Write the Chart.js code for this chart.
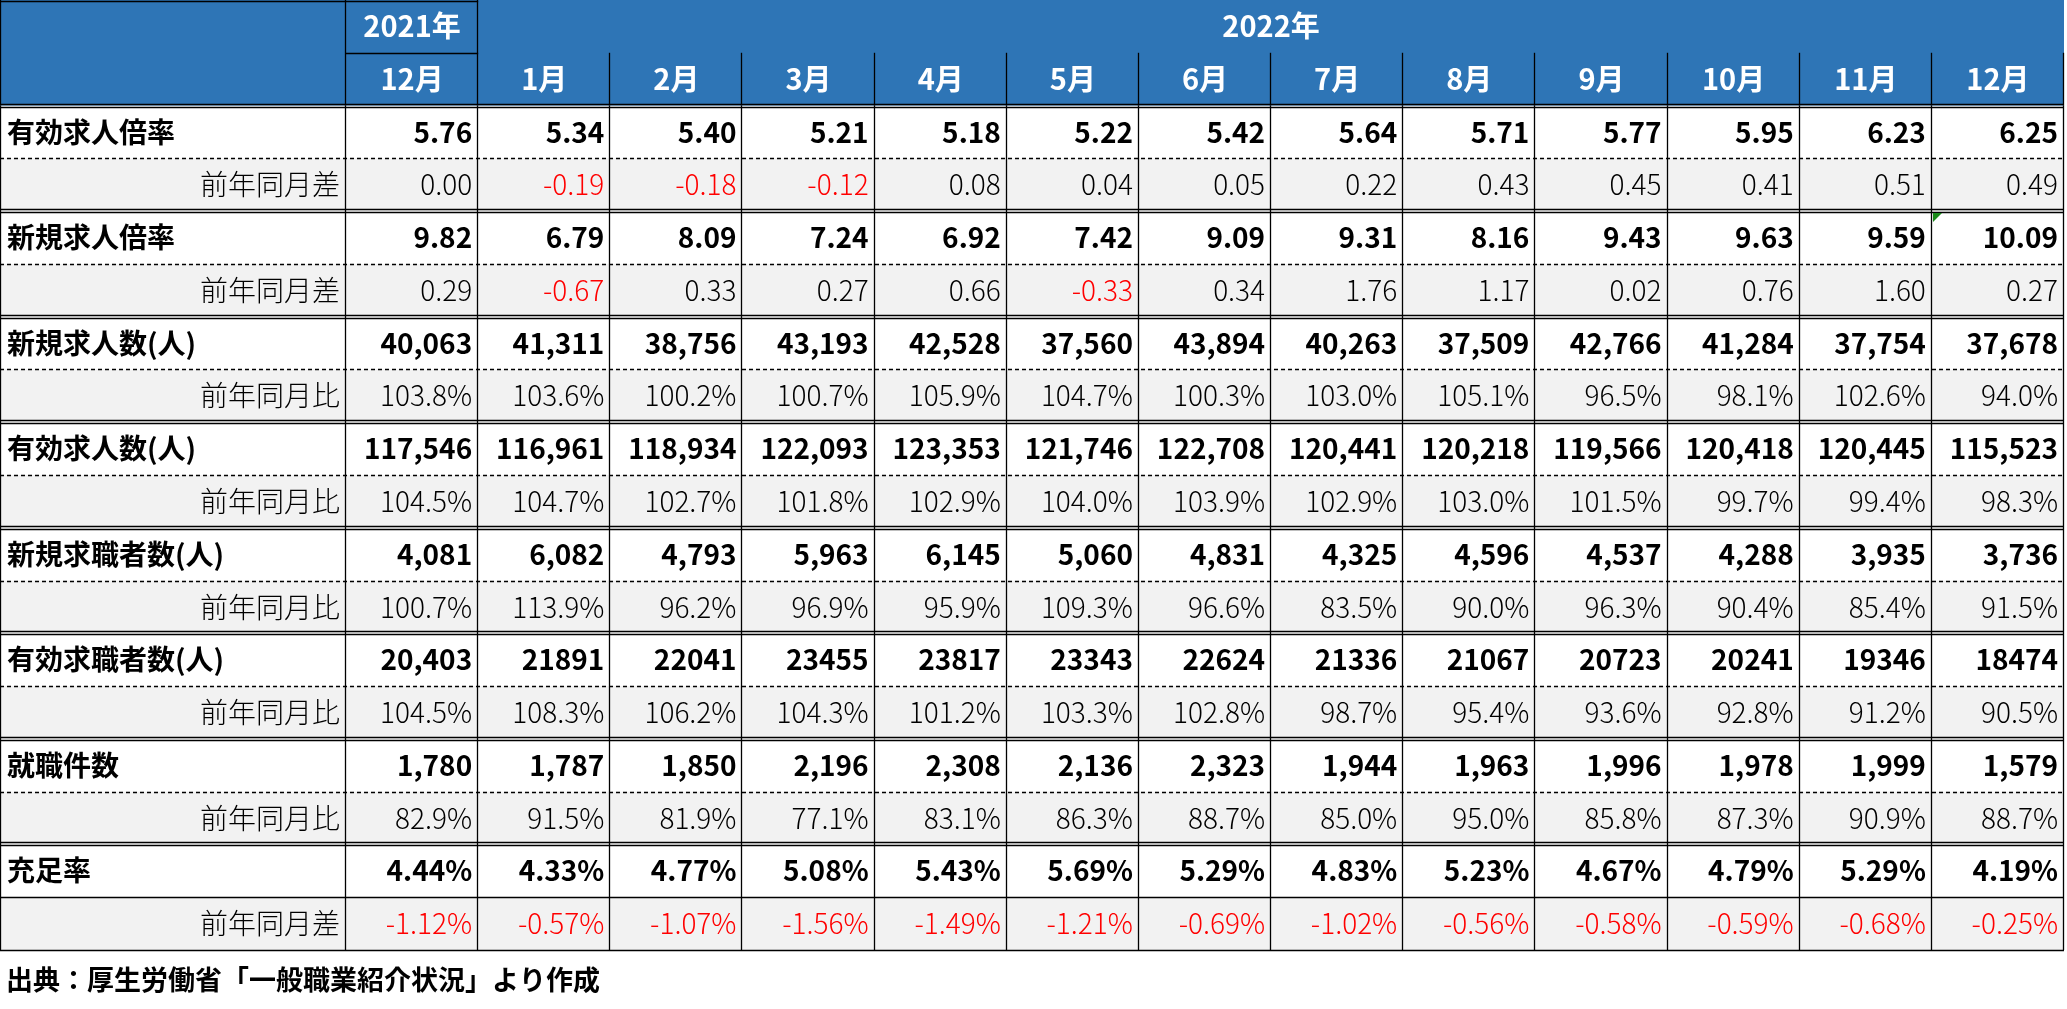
<!DOCTYPE html>
<html lang="ja">
<head>
<meta charset="utf-8">
<title>一般職業紹介状況</title>
<script src="https://cdn.jsdelivr.net/npm/chart.js@4.4.1/dist/chart.umd.min.js"></script>
<style>
    html, body { margin: 0; padding: 0; background: #fff; }
</style>
</head>
<body>
<canvas id="tableChart" width="2067" height="1009"></canvas>
<script>
/* DATA */

const years = ["2021年", "2022年"];
const yearSpans = [1, 12];
const months = ["12月", "1月", "2月", "3月", "4月", "5月", "6月", "7月", "8月", "9月", "10月", "11月", "12月"];

const rowLabels = ["有効求人倍率", "新規求人倍率", "新規求人数(人)", "有効求人数(人)", "新規求職者数(人)", "有効求職者数(人)", "就職件数", "充足率"];
const subLabels = ["前年同月差", "前年同月差", "前年同月比", "前年同月比", "前年同月比", "前年同月比", "前年同月比", "前年同月差"];

const activeOpeningRatio = [5.76, 5.34, 5.40, 5.21, 5.18, 5.22, 5.42, 5.64, 5.71, 5.77, 5.95, 6.23, 6.25];
const activeOpeningRatioDiff = [0.00, -0.19, -0.18, -0.12, 0.08, 0.04, 0.05, 0.22, 0.43, 0.45, 0.41, 0.51, 0.49];
const newOpeningRatio = [9.82, 6.79, 8.09, 7.24, 6.92, 7.42, 9.09, 9.31, 8.16, 9.43, 9.63, 9.59, 10.09];
const newOpeningRatioDiff = [0.29, -0.67, 0.33, 0.27, 0.66, -0.33, 0.34, 1.76, 1.17, 0.02, 0.76, 1.60, 0.27];
const newOpenings = [40063, 41311, 38756, 43193, 42528, 37560, 43894, 40263, 37509, 42766, 41284, 37754, 37678];
const newOpeningsYoY = [103.8, 103.6, 100.2, 100.7, 105.9, 104.7, 100.3, 103.0, 105.1, 96.5, 98.1, 102.6, 94.0];
const activeOpenings = [117546, 116961, 118934, 122093, 123353, 121746, 122708, 120441, 120218, 119566, 120418, 120445, 115523];
const activeOpeningsYoY = [104.5, 104.7, 102.7, 101.8, 102.9, 104.0, 103.9, 102.9, 103.0, 101.5, 99.7, 99.4, 98.3];
const newSeekers = [4081, 6082, 4793, 5963, 6145, 5060, 4831, 4325, 4596, 4537, 4288, 3935, 3736];
const newSeekersYoY = [100.7, 113.9, 96.2, 96.9, 95.9, 109.3, 96.6, 83.5, 90.0, 96.3, 90.4, 85.4, 91.5];
const activeSeekers = [20403, 21891, 22041, 23455, 23817, 23343, 22624, 21336, 21067, 20723, 20241, 19346, 18474];
const activeSeekersYoY = [104.5, 108.3, 106.2, 104.3, 101.2, 103.3, 102.8, 98.7, 95.4, 93.6, 92.8, 91.2, 90.5];
const placements = [1780, 1787, 1850, 2196, 2308, 2136, 2323, 1944, 1963, 1996, 1978, 1999, 1579];
const placementsYoY = [82.9, 91.5, 81.9, 77.1, 83.1, 86.3, 88.7, 85.0, 95.0, 85.8, 87.3, 90.9, 88.7];
const fillRate = [4.44, 4.33, 4.77, 5.08, 5.43, 5.69, 5.29, 4.83, 5.23, 4.67, 4.79, 5.29, 4.19];
const fillRateDiff = [-1.12, -0.57, -1.07, -1.56, -1.49, -1.21, -0.69, -1.02, -0.56, -0.58, -0.59, -0.68, -0.25];

const sourceNote = "出典：厚生労働省「一般職業紹介状況」より作成";

/* FORMAT */

const fix2 = v => v.toFixed(2);
const comma = v => v.toLocaleString("en-US");
const pct1 = v => v.toFixed(1) + "%";
const pct2 = v => v.toFixed(2) + "%";
// the 2022 figures of this row are written without separators in the source
const commaFirstOnly = (v, i) => i === 0 ? comma(v) : String(v);

const groups = [
    [activeOpeningRatio, fix2, activeOpeningRatioDiff, fix2],
    [newOpeningRatio, fix2, newOpeningRatioDiff, fix2],
    [newOpenings, comma, newOpeningsYoY, pct1],
    [activeOpenings, comma, activeOpeningsYoY, pct1],
    [newSeekers, comma, newSeekersYoY, pct1],
    [activeSeekers, commaFirstOnly, activeSeekersYoY, pct1],
    [placements, comma, placementsYoY, pct1],
    [fillRate, pct2, fillRateDiff, pct2]
];

const tableRows = [];
groups.forEach((g, i) => {
    tableRows.push({ label: rowLabels[i], values: g[0], fmt: g[1], sub: false });
    tableRows.push({ label: subLabels[i], values: g[2], fmt: g[3], sub: true });
});

const HEADER_ROWS = 2;
const BLUE = "#2e75b6";
const GREY = "#f2f2f2";
const FONT = '"Noto Sans CJK JP", "Noto Sans", sans-serif';

/* TABLE PLUGIN */

function hline(ctx, x0, x1, yy, dash) {
    ctx.setLineDash(dash || []);
    ctx.beginPath();
    ctx.moveTo(x0, Math.round(yy) + 0.5);
    ctx.lineTo(x1, Math.round(yy) + 0.5);
    ctx.stroke();
}

function vline(ctx, xx, y0, y1) {
    ctx.setLineDash([]);
    ctx.beginPath();
    ctx.moveTo(Math.round(xx) - 0.5, y0);
    ctx.lineTo(Math.round(xx) - 0.5, y1);
    ctx.stroke();
}

const tableGrid = {
    id: "tableGrid",
    beforeDatasetsDraw(chart) {
        const { ctx, chartArea, scales: { x, y } } = chart;
        const colW = x.getPixelForValue(1) - x.getPixelForValue(0);
        const edge = c => x.getPixelForValue(c) - colW / 2;
        const rowY = r => y.getPixelForValue(r);
        const right = chartArea.right;
        const last = HEADER_ROWS + tableRows.length;

        ctx.save();
        ctx.fillStyle = "#fff";
        ctx.fillRect(0, 0, chart.width, chart.height);

        ctx.fillStyle = BLUE;
        ctx.fillRect(0, rowY(0), right, rowY(HEADER_ROWS) - rowY(0));

        tableRows.forEach((row, r) => {
            if (!row.sub) return;
            ctx.fillStyle = GREY;
            ctx.fillRect(0, rowY(r + HEADER_ROWS), right, rowY(r + HEADER_ROWS + 1) - rowY(r + HEADER_ROWS));
        });

        ctx.strokeStyle = "#000";
        ctx.lineWidth = 1.3;

        // header borders
        hline(ctx, 0, edge(1), 0.5);
        hline(ctx, chartArea.left, edge(1), rowY(1));
        vline(ctx, 1, 0, rowY(HEADER_ROWS));
        vline(ctx, chartArea.left, 0, rowY(HEADER_ROWS));
        vline(ctx, edge(1), 0, rowY(HEADER_ROWS));
        for (let c = 2; c < months.length; c++) vline(ctx, edge(c), rowY(1), rowY(HEADER_ROWS));
        vline(ctx, right, rowY(1), rowY(HEADER_ROWS));

        // body verticals
        const top = rowY(HEADER_ROWS);
        const bottom = rowY(last);
        vline(ctx, 1, top, bottom);
        vline(ctx, chartArea.left, top, bottom);
        for (let c = 1; c < months.length; c++) vline(ctx, edge(c), top, bottom);
        vline(ctx, right, top, bottom);

        // body horizontals
        for (let r = 0; r < tableRows.length; r += 2) {
            const yy = rowY(r + HEADER_ROWS);
            hline(ctx, 0, right, yy - 2);
            hline(ctx, 0, right, yy + 1);
            const isLast = r === tableRows.length - 2;
            hline(ctx, 0, right, rowY(r + HEADER_ROWS + 1), isLast ? [] : [4, 3]);
        }
        hline(ctx, 0, right, bottom);
        ctx.restore();
    },
    afterDatasetsDraw(chart) {
        const { ctx, chartArea, scales: { x, y } } = chart;
        const colW = x.getPixelForValue(1) - x.getPixelForValue(0);
        const rowY = r => y.getPixelForValue(r);

        ctx.save();
        ctx.textBaseline = "middle";

        // header
        ctx.fillStyle = "#fff";
        ctx.font = "bold 29px " + FONT;
        ctx.textAlign = "center";
        let c0 = 0;
        years.forEach((yr, i) => {
            const xa = x.getPixelForValue(c0) - colW / 2;
            const xb = x.getPixelForValue(c0 + yearSpans[i] - 1) + colW / 2;
            ctx.fillText(yr, (xa + xb) / 2, (rowY(0) + rowY(1)) / 2);
            c0 += yearSpans[i];
        });
        x.getLabels().forEach((m, c) => {
            ctx.fillText(m, x.getPixelForValue(c), (rowY(1) + rowY(2)) / 2);
        });

        // body
        tableRows.forEach((row, r) => {
            const meta = chart.getDatasetMeta(r);
            const cy = meta.data[0].y;
            ctx.fillStyle = "#000";
            if (row.sub) {
                ctx.font = "300 28px " + FONT;
                ctx.textAlign = "right";
                ctx.fillText(row.label, chartArea.left - 6, cy);
            } else {
                ctx.font = "bold 28px " + FONT;
                ctx.textAlign = "left";
                ctx.fillText(row.label, 7, cy);
            }
            ctx.textAlign = "right";
            meta.data.forEach((el, c) => {
                const v = row.values[c];
                ctx.fillStyle = row.sub && v < 0 ? "#ff0000" : "#000";
                ctx.font = (row.sub ? "300 " : "bold ") + "28px " + FONT;
                ctx.fillText(row.fmt(v, c), el.x + colW / 2 - 6, el.y);
            });
        });

        // error marker seen in the spreadsheet
        const mk = chart.getDatasetMeta(2).data[12];
        const mx = Math.round(mk.x - colW / 2) + 1;
        const my = Math.round(rowY(HEADER_ROWS + 2)) + 2;
        ctx.fillStyle = "#1a8a1a";
        ctx.beginPath();
        ctx.moveTo(mx, my);
        ctx.lineTo(mx + 9, my);
        ctx.lineTo(mx, my + 9);
        ctx.closePath();
        ctx.fill();

        // source note
        ctx.fillStyle = "#000";
        ctx.font = "bold 27px " + FONT;
        ctx.textAlign = "left";
        ctx.fillText(sourceNote, 6, rowY(HEADER_ROWS + tableRows.length) + 30);
        ctx.restore();
    }
};

/* CHART */

const ctx = document.getElementById("tableChart");

new Chart(ctx, {
    type: "scatter",
    data: {
        labels: months,
        datasets: tableRows.map((row, r) => ({
            label: row.label,
            data: row.values.map((v, c) => ({ x: c, y: r + HEADER_ROWS + 0.5 })),
            pointRadius: 0,
            pointHoverRadius: 0
        }))
    },
    options: {
        responsive: false,
        animation: false,
        events: [],
        layout: {
            padding: { left: 346, right: 3, top: 0, bottom: 59 }
        },
        scales: {
            x: { type: "category", labels: months, offset: true, display: false },
            y: { type: "linear", min: 0, max: HEADER_ROWS + tableRows.length, reverse: true, display: false }
        },
        plugins: {
            legend: { display: false },
            tooltip: { enabled: false }
        }
    },
    plugins: [tableGrid]
});
</script>
</body>
</html>
